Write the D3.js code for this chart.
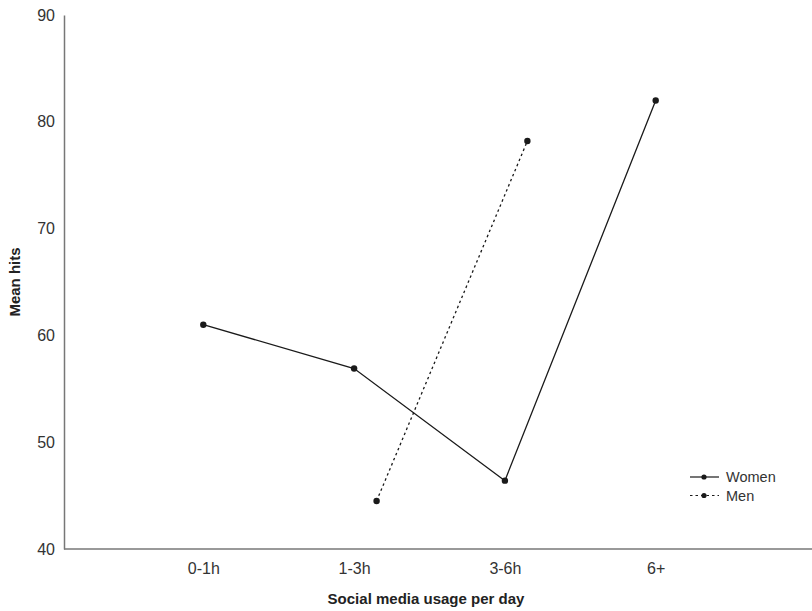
<!DOCTYPE html>
<html><head><meta charset="utf-8">
<script src="https://cdn.jsdelivr.net/npm/d3@7"></script>
<style>html,body{margin:0;padding:0;background:#fff;}svg{display:block;font-family:"Liberation Sans",Arial,sans-serif;}</style>
</head><body>
<svg id="chart" width="812" height="611"></svg>
<script>
const categories = ["0-1h", "1-3h", "3-6h", "6+"];
const women = [61.0, 56.9, 46.4, 82.0];
const men = [null, 44.5, 78.2, null];
const yTicks = [40, 50, 60, 70, 80, 90];
const seriesNames = ["Women", "Men"];

const svg = d3.select("#chart");
const x = d3.scaleLinear().domain([0, categories.length - 1]).range([203.3, 655.7]);
const y = d3.scaleLinear().domain([40, 90]).range([549, 15]);
const menOffset = 22.5;
const ink = "#1a1a1a";
const left = 64, right = 812;

// y axis
const yAxis = d3.axisLeft(y).tickValues(yTicks).tickSize(0).tickPadding(9).tickFormat(d3.format("d"));
const gy = svg.append("g").attr("transform", `translate(${left},0)`).call(yAxis);
gy.select(".domain").attr("stroke", "#777").attr("stroke-width", 1.5);
gy.selectAll("text").attr("font-size", 16).attr("fill", "#333").attr("font-family", "Liberation Sans, Arial, sans-serif");

// x axis
const xAxis = d3.axisBottom(x).tickValues(categories.map((c, i) => i))
  .tickFormat((d) => categories[d]).tickSize(0).tickPadding(14);
const gx = svg.append("g").attr("transform", `translate(0,${y(40)})`).call(xAxis);
gx.select(".domain").remove();
gx.selectAll("text").attr("font-size", 16).attr("fill", "#333").attr("font-family", "Liberation Sans, Arial, sans-serif");
svg.append("line").attr("x1", left).attr("x2", right).attr("y1", y(40)).attr("y2", y(40))
  .attr("stroke", "#777").attr("stroke-width", 1.5);

// titles
svg.append("text").attr("x", 426).attr("y", 604)
  .attr("text-anchor", "middle").attr("font-size", 15).attr("font-weight", "bold").attr("fill", "#222")
  .text("Social media usage per day");
svg.append("text").attr("transform", "translate(20,282) rotate(-90)")
  .attr("text-anchor", "middle").attr("font-size", 15).attr("font-weight", "bold").attr("fill", "#222")
  .text("Mean hits");

// series
const series = [
  { name: seriesNames[0], values: women, off: 0, dash: null },
  { name: seriesNames[1], values: men, off: menOffset, dash: "2.5,3" }
];
series.forEach(s => {
  const pts = s.values.map((v, i) => ({ i, v })).filter(d => d.v != null);
  const line = d3.line().x(d => x(d.i) + s.off).y(d => y(d.v));
  svg.append("path").datum(pts).attr("d", line).attr("fill", "none")
    .attr("stroke", ink).attr("stroke-width", 1.3)
    .attr("stroke-dasharray", s.dash);
  svg.selectAll(null).data(pts).enter().append("circle")
    .attr("cx", d => x(d.i) + s.off).attr("cy", d => y(d.v)).attr("r", 3.2).attr("fill", ink);
});

// legend
const lg = svg.append("g");
series.forEach((s, k) => {
  const yy = 477 + k * 18.5;
  lg.append("line").attr("x1", 690).attr("x2", 719).attr("y1", yy).attr("y2", yy)
    .attr("stroke", ink).attr("stroke-width", 1.2).attr("stroke-dasharray", s.dash);
  lg.append("circle").attr("cx", 704).attr("cy", yy).attr("r", 2.6).attr("fill", ink);
  lg.append("text").attr("x", 726).attr("y", yy).attr("dy", "0.35em")
    .attr("font-size", 14.5).attr("fill", "#333").text(s.name);
});
</script>
</body></html>
